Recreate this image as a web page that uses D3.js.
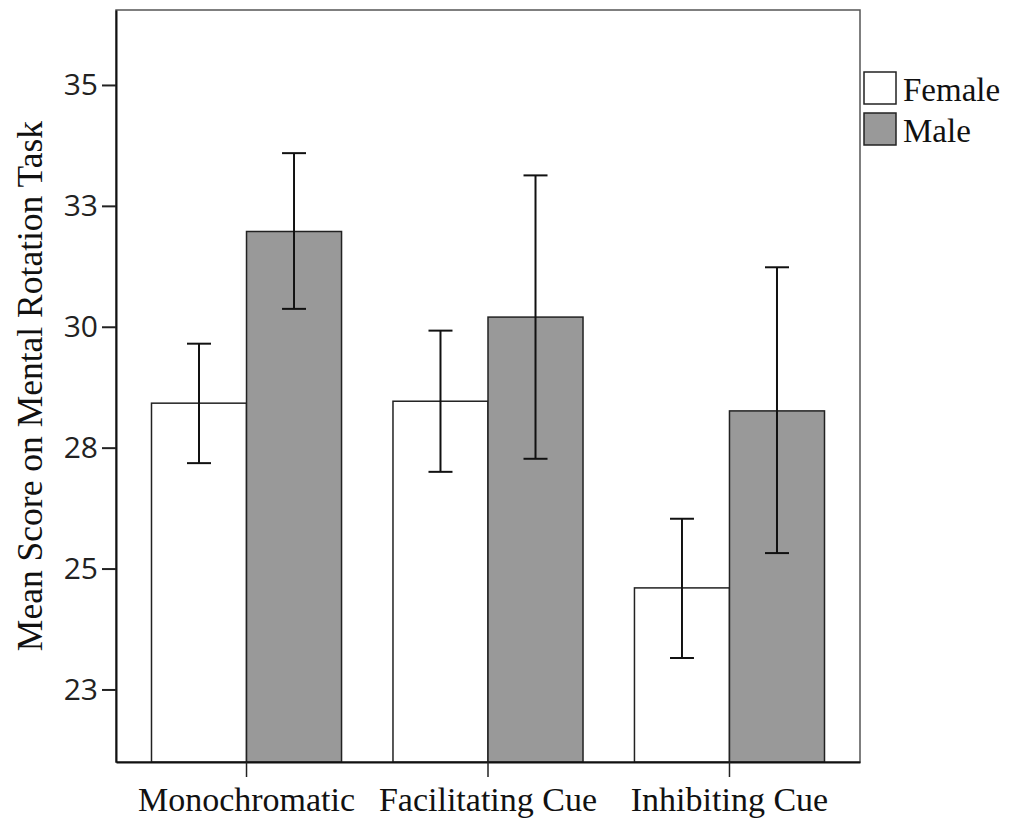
<!DOCTYPE html>
<html>
<head>
<meta charset="utf-8">
<script src="https://cdn.jsdelivr.net/npm/d3@7"></script>
<style>
  body { margin: 0; background: #fff; }
  svg { display: block; }
</style>
</head>
<body>
<svg id="chart" width="1009" height="818"></svg>
<script>
var categories = ['Monochromatic', 'Facilitating Cue', 'Inhibiting Cue']
var groups = ['Female', 'Male']
var femaleMeans = [28.42, 28.46, 24.60]
var femaleLow = [27.18, 27.00, 23.15]
var femaleHigh = [29.65, 29.92, 26.03]
var maleMeans = [31.97, 30.20, 28.26]
var maleLow = [30.37, 27.27, 25.32]
var maleHigh = [33.59, 33.13, 31.23]
var yTicks = [22.5, 25, 27.5, 30, 32.5, 35]
var yTickLabels = ['23', '25', '28', '30', '33', '35']
var fills = { Female: '#ffffff', Male: '#999999' }

var LEFT = 116, RIGHT = 860, TOP = 10, BOTTOM = 762
var SERIF = '"Liberation Serif", "Times New Roman", serif'

var svg = d3.select('#chart')

var y = d3.scaleLinear().domain([21, 36.55]).range([BOTTOM, TOP])
var x = d3.scaleBand().domain(categories).range([LEFT, RIGHT])
  .paddingInner(0.213).paddingOuter(0.147)
var xs = d3.scaleBand().domain(groups).range([0, x.bandwidth()])

var rows = []
categories.forEach(function (c, i) {
  rows.push({ cat: c, group: 'Female', mean: femaleMeans[i], lo: femaleLow[i], hi: femaleHigh[i] })
  rows.push({ cat: c, group: 'Male', mean: maleMeans[i], lo: maleLow[i], hi: maleHigh[i] })
})

// frame
svg.append('rect')
  .attr('x', LEFT).attr('y', TOP)
  .attr('width', RIGHT - LEFT).attr('height', BOTTOM - TOP)
  .attr('fill', 'none').attr('stroke', '#555').attr('stroke-width', 1.5)

svg.selectAll('rect.bar')
  .data(rows)
  .join('rect')
  .attr('class', 'bar')
  .attr('x', function (d) { return x(d.cat) + xs(d.group) })
  .attr('y', function (d) { return y(d.mean) })
  .attr('width', xs.bandwidth())
  .attr('height', function (d) { return BOTTOM - y(d.mean) })
  .attr('fill', function (d) { return fills[d.group] })
  .attr('stroke', '#222')
  .attr('stroke-width', 1.5)

var err = svg.selectAll('g.err')
  .data(rows)
  .join('g')
  .attr('class', 'err')
  .attr('transform', function (d) {
    return 'translate(' + (x(d.cat) + xs(d.group) + xs.bandwidth() / 2) + ',0)'
  })
  .attr('stroke', '#111')
  .attr('stroke-width', 2)
err.append('line')
  .attr('y1', function (d) { return y(d.lo) })
  .attr('y2', function (d) { return y(d.hi) })
err.append('line')
  .attr('x1', -12).attr('x2', 12)
  .attr('y1', function (d) { return y(d.hi) })
  .attr('y2', function (d) { return y(d.hi) })
err.append('line')
  .attr('x1', -12).attr('x2', 12)
  .attr('y1', function (d) { return y(d.lo) })
  .attr('y2', function (d) { return y(d.lo) })

// y axis
var yAxis = svg.append('g')
  .attr('transform', 'translate(' + LEFT + ',0)')
  .call(d3.axisLeft(y).tickValues(yTicks).tickSize(14).tickSizeOuter(0).tickPadding(4)
    .tickFormat(function (d, i) { return yTickLabels[i] }))
yAxis.select('.domain').attr('stroke', '#111').attr('stroke-width', 2)
yAxis.selectAll('.tick line').attr('stroke', '#222').attr('stroke-width', 2)
yAxis.selectAll('.tick text')
  .attr('fill', '#222')
  .style('font-family', '"Open Sans", "Noto Sans", sans-serif')
  .style('font-size', '30px')

// x axis
var xAxis = svg.append('g')
  .attr('transform', 'translate(0,' + BOTTOM + ')')
  .call(d3.axisBottom(x).tickSize(15).tickSizeOuter(0).tickPadding(10))
xAxis.select('.domain').attr('stroke', '#111').attr('stroke-width', 2)
xAxis.selectAll('.tick line').attr('stroke', '#222').attr('stroke-width', 1.5)
xAxis.selectAll('.tick text')
  .attr('fill', '#111')
  .style('font-family', SERIF)
  .style('font-size', '34px')

svg.append('text')
  .attr('transform', 'translate(42,' + 386 + ') rotate(-90)')
  .attr('text-anchor', 'middle')
  .style('font-family', SERIF)
  .style('font-size', '35.5px')
  .attr('fill', '#111')
  .text('Mean Score on Mental Rotation Task')

// legend
var legend = svg.selectAll('g.legend')
  .data(groups)
  .join('g')
  .attr('class', 'legend')
  .attr('transform', function (d, i) { return 'translate(864,' + (72 + i * 41) + ')' })
legend.append('rect')
  .attr('width', 32).attr('height', 32)
  .attr('fill', function (d) { return fills[d] })
  .attr('stroke', '#222').attr('stroke-width', 1.5)
legend.append('text')
  .attr('x', 39).attr('y', 29)
  .style('font-family', SERIF)
  .style('font-size', '33px')
  .attr('fill', '#111')
  .text(function (d) { return d })
</script>
</body>
</html>
